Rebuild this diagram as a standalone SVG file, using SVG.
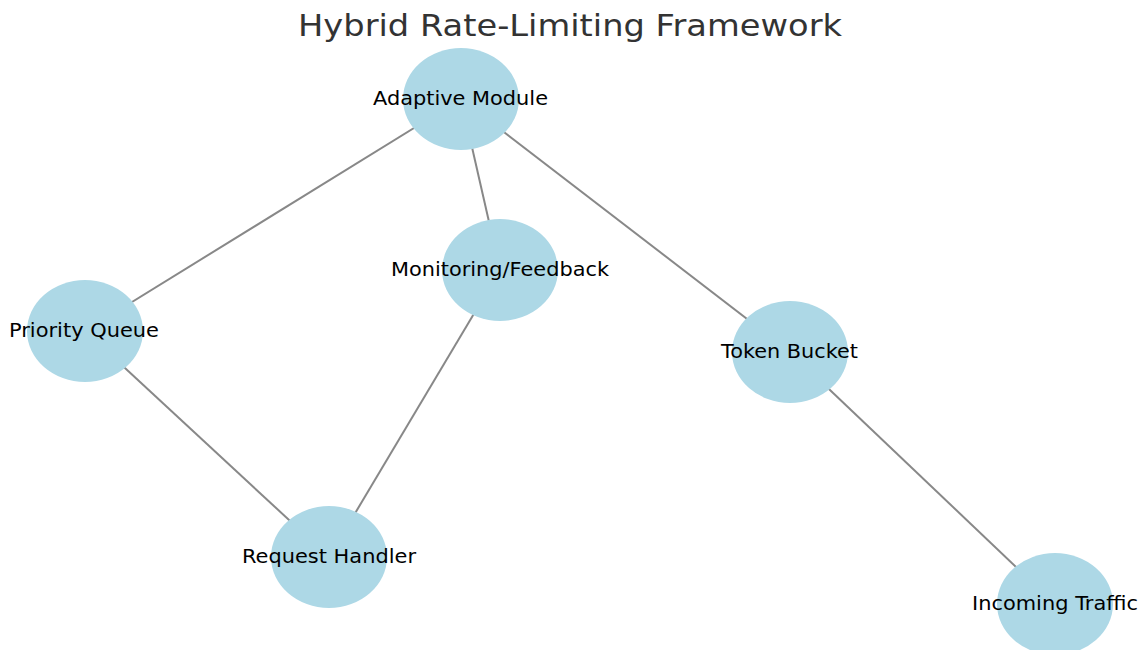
<svg xmlns="http://www.w3.org/2000/svg" width="1143" height="650" viewBox="0 0 1143 650">
<style>
.node ellipse{fill:#add8e6;}
.node text{font-family:"DejaVu Sans",sans-serif;font-size:20px;fill:#000;text-anchor:middle;}
.edges line{stroke:#888;stroke-width:2;}
.title{font-family:"DejaVu Sans",sans-serif;font-size:31px;fill:#333;text-anchor:middle;}
</style>
<rect width="1143" height="650" fill="#fff"/>
<text class="title" x="570" y="36" textLength="544" lengthAdjust="spacingAndGlyphs">Hybrid Rate-Limiting Framework</text>
<g class="edges">
<line x1="461" y1="99" x2="85" y2="331"/>
<line x1="461" y1="99" x2="500" y2="270"/>
<line x1="461" y1="99" x2="790" y2="352"/>
<line x1="85" y1="331" x2="329" y2="557"/>
<line x1="500" y1="270" x2="329" y2="557"/>
<line x1="790" y1="352" x2="1055" y2="604"/>
</g>
<g id="adaptive" class="node"><ellipse cx="461" cy="99" rx="58" ry="51"/><text x="460.5" y="105" textLength="175" lengthAdjust="spacingAndGlyphs">Adaptive Module</text></g>
<g id="monitoring" class="node"><ellipse cx="500" cy="270" rx="58" ry="51"/><text x="500" y="276" textLength="218" lengthAdjust="spacingAndGlyphs">Monitoring/Feedback</text></g>
<g id="priority" class="node"><ellipse cx="85" cy="331" rx="58" ry="51"/><text x="84" y="337" textLength="150" lengthAdjust="spacingAndGlyphs">Priority Queue</text></g>
<g id="token" class="node"><ellipse cx="790" cy="352" rx="58" ry="51"/><text x="789.5" y="358" textLength="137" lengthAdjust="spacingAndGlyphs">Token Bucket</text></g>
<g id="request" class="node"><ellipse cx="329" cy="557" rx="58" ry="51"/><text x="329" y="563" textLength="174" lengthAdjust="spacingAndGlyphs">Request Handler</text></g>
<g id="incoming" class="node"><ellipse cx="1055" cy="604" rx="58" ry="51"/><text x="1055" y="610" textLength="166" lengthAdjust="spacingAndGlyphs">Incoming Traffic</text></g>
</svg>
